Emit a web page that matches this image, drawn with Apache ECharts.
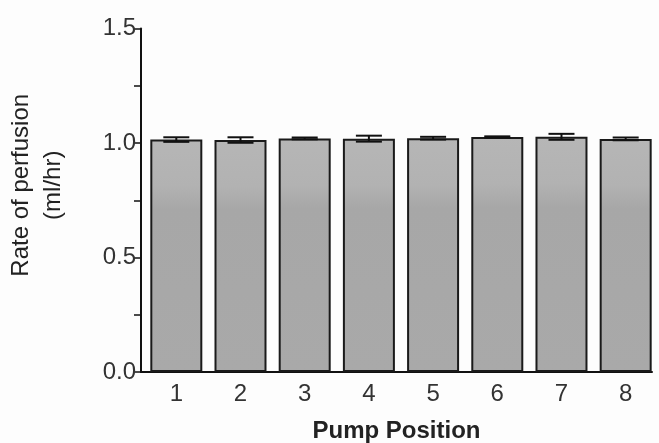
<!DOCTYPE html>
<html>
<head>
<meta charset="utf-8">
<script src="https://cdn.jsdelivr.net/npm/echarts@6/dist/echarts.min.js"></script>
<style>
html,body{margin:0;padding:0;background:#fdfdfd;}
#c{width:659px;height:443px;}
</style>
</head>
<body>
<div id="c"></div>
<script>
const positions = [1, 2, 3, 4, 5, 6, 7, 8];
const rates = [1.015, 1.013, 1.020, 1.019, 1.021, 1.026, 1.027, 1.018];
const sems = [0.010, 0.012, 0.004, 0.013, 0.006, 0.003, 0.013, 0.006];
const yTicks = [0, 0.5, 1.0, 1.5];

const FONT = 'Liberation Sans, Arial, Helvetica, sans-serif';
const chart = echarts.init(document.getElementById('c'), null, {renderer: 'canvas'});

const barData = positions.map((p, i) => [p, rates[i]]);
const errData = positions.map((p, i) => [p, rates[i] - sems[i], rates[i] + sems[i]]);

chart.setOption({
  backgroundColor: '#fdfdfd',
  animation: false,
  grid: {left: 141, right: 7, top: 28.5, bottom: 71, containLabel: false, outerBoundsMode: 'none'},
  xAxis: {
    type: 'value',
    min: 0.45,
    max: 8.41,
    name: 'Pump Position',
    nameLocation: 'middle',
    nameGap: 47,
    nameTextStyle: {fontFamily: FONT, fontSize: 24, fontWeight: 'bold', color: '#222'},
    axisLine: {show: true, onZero: false, lineStyle: {color: '#111', width: 2}},
    axisTick: {show: false},
    splitLine: {show: false},
    axisLabel: {
      customValues: positions,
      fontFamily: FONT, fontSize: 24, color: '#333', margin: 10,
      formatter: v => String(v)
    }
  },
  yAxis: {
    type: 'value',
    min: 0,
    max: 1.5,
    interval: 0.25,
    name: 'Rate of perfusion\n(ml/hr)',
    nameLocation: 'middle',
    nameGap: 72,
    nameRotate: 90,
    nameTextStyle: {fontFamily: FONT, fontSize: 24, color: '#222', lineHeight: 32, align: 'center', padding: [0, 0, 0, 30]},
    axisLine: {show: true, lineStyle: {color: '#111', width: 2}},
    axisTick: {show: true, inside: false, length: 7, lineStyle: {color: '#111', width: 1.5}},
    splitLine: {show: false},
    axisLabel: {
      fontFamily: FONT, fontSize: 24, color: '#333', margin: 5,
      formatter: v => {
        const hit = yTicks.find(t => Math.abs(t - v) < 1e-9);
        return hit === undefined ? '' : hit.toFixed(1);
      }
    }
  },
  series: [
    {
      type: 'bar',
      data: barData,
      barWidth: 52,
      itemStyle: {
        color: new echarts.graphic.LinearGradient(0, 0, 0, 1, [
          {offset: 0, color: '#b6b6b6'},
          {offset: 0.2, color: '#b2b2b2'},
          {offset: 0.3, color: '#a7a7a7'},
          {offset: 1, color: '#a9a9a9'}
        ]),
        borderColor: '#1a1a1a',
        borderWidth: 2
      }
    },
    {
      type: 'custom',
      data: errData,
      z: 10,
      renderItem: function (params, api) {
        const x = api.value(0);
        const lo = api.coord([x, api.value(1)]);
        const hi = api.coord([x, api.value(2)]);
        const hw = 13;
        const style = {stroke: '#111', lineWidth: 2};
        return {
          type: 'group',
          children: [
            {type: 'line', shape: {x1: lo[0], y1: lo[1], x2: hi[0], y2: hi[1]}, style: style},
            {type: 'line', shape: {x1: lo[0] - hw, y1: lo[1], x2: lo[0] + hw, y2: lo[1]}, style: style},
            {type: 'line', shape: {x1: hi[0] - hw, y1: hi[1], x2: hi[0] + hw, y2: hi[1]}, style: style}
          ]
        };
      }
    }
  ]
});
</script>
</body>
</html>
